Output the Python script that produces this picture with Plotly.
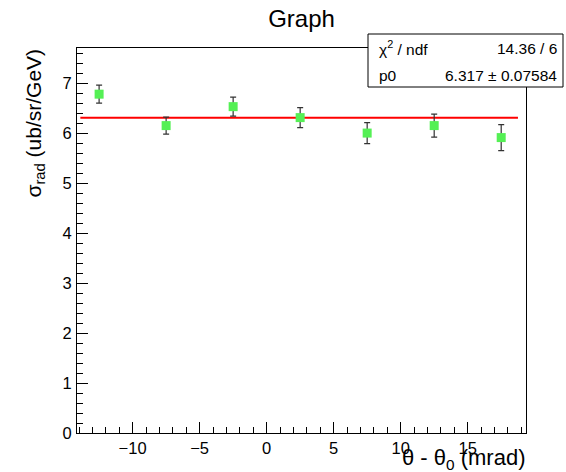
import plotly.graph_objects as go

# ---- data ----
x_vals = [-12.5, -7.5, -2.5, 2.5, 7.5, 12.5, 17.5]
y_vals = [6.79, 6.16, 6.54, 6.32, 6.01, 6.16, 5.92]
y_errs = [0.18, 0.17, 0.19, 0.20, 0.21, 0.23, 0.26]
fit_p0 = 6.317
fit_range = [-13.9, 18.75]
stat_labels = ["χ<sup>2</sup> / ndf", "p0"]
stat_values = ["14.36 / 6", "6.317 ± 0.07584"]

W, H = 566, 472
L, R, T, B = 77, 40, 48, 39
FONT = "Liberation Sans, Arial, Helvetica, sans-serif"

def px_x(px):
    return (px - L) / (W - L - R)

def px_y(py):
    return (H - B - py) / (H - T - B)

fig = go.Figure()

fig.add_trace(go.Scatter(
    x=fit_range, y=[fit_p0, fit_p0], mode="lines",
    line=dict(color="#ff0000", width=2), showlegend=False, hoverinfo="skip"))

fig.add_trace(go.Scatter(
    x=x_vals, y=y_vals, mode="markers",
    marker=dict(symbol="square", size=9, color="#55f055"),
    error_y=dict(type="data", array=y_errs, visible=True, color="#333333",
                 thickness=1.2, width=3),
    showlegend=False))

fig.update_layout(
    width=W, height=H,
    margin=dict(l=L, r=R, t=T, b=B),
    plot_bgcolor="white", paper_bgcolor="white",
    font=dict(family=FONT, size=16, color="black"),
    title=dict(text="Graph", x=301.5 / W, xanchor="center",
               y=1 - 19 / H, yanchor="middle",
               font=dict(size=24, family=FONT)),
    xaxis=dict(range=[-14.15, 19.35], dtick=5, tick0=0, ticks="inside", ticklen=11,
               tickcolor="black", showline=True, linecolor="black", linewidth=1,
               mirror=True, showgrid=False, zeroline=False,
               minor=dict(dtick=1, ticks="inside", ticklen=6, tickcolor="black"),
               tickfont=dict(size=16.5)),
    yaxis=dict(range=[0, 7.715], dtick=1, tick0=0, ticks="inside", ticklen=11,
               tickcolor="black", showline=True, linecolor="black", linewidth=1,
               mirror=True, showgrid=False, zeroline=False,
               minor=dict(dtick=0.2, ticks="inside", ticklen=6, tickcolor="black"),
               tickfont=dict(size=16.5), ticklabelstandoff=1),
)

# axis titles
fig.add_annotation(text="θ - θ<sub>0</sub> (mrad)", xref="paper", yref="paper",
                   x=px_x(527), y=px_y(459), xanchor="right", yanchor="middle",
                   showarrow=False, font=dict(size=22))
fig.add_annotation(text="σ<sub>rad</sub> (ub/sr/GeV)", xref="paper", yref="paper",
                   x=px_x(34), y=px_y(47), xanchor="center", yanchor="top",
                   textangle=-90, showarrow=False, font=dict(size=21))

# stats box
fig.add_shape(type="rect", xref="paper", yref="paper",
              x0=px_x(368), x1=px_x(563), y0=px_y(87), y1=px_y(34),
              line=dict(color="black", width=1), fillcolor="white", layer="above")
for i, (lab, val) in enumerate(zip(stat_labels, stat_values)):
    yy = px_y(48 + 27 * i)
    fig.add_annotation(text=lab, xref="paper", yref="paper", x=px_x(377), y=yy,
                       xanchor="left", yanchor="middle", showarrow=False,
                       font=dict(size=15.5))
    fig.add_annotation(text=val, xref="paper", yref="paper", x=px_x(559), y=yy,
                       xanchor="right", yanchor="middle", showarrow=False,
                       font=dict(size=15.5))

fig.write_html("out.html")
